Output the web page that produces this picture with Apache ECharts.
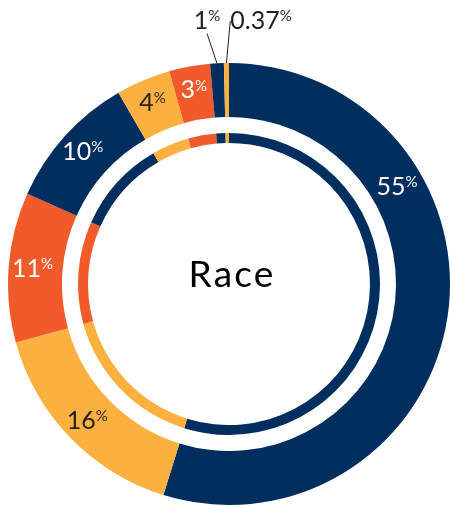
<!DOCTYPE html>
<html>
<head>
<meta charset="utf-8">
<style>html,body{margin:0;padding:0;background:#fff}#main{width:450px;height:506px}</style>
<script src="https://cdn.jsdelivr.net/npm/echarts@6/dist/echarts.min.js"></script>
</head>
<body>
<div id="main"></div>
<script>
// shares of each race group, clockwise from 12 o'clock
var groups = ['g1', 'g2', 'g3', 'g4', 'g5', 'g6', 'g7', 'g8'];
var values = [55, 16, 11, 10, 4, 3, 1, 0.37];
var labels = ['55', '16', '11', '10', '4', '3', '1', '0.37'];

var NAVY = '#002f5f', YELLOW = '#fbb040', RED = '#f15a2b', INK = '#231f20';
var colors = [NAVY, YELLOW, RED, NAVY, YELLOW, RED, NAVY, YELLOW];
var cx = 229, cy = 284;

var chart = echarts.init(document.getElementById('main'));

function pctRich(col) {
  return {
    n: {fontFamily: 'Lato', fontWeight: 400, fontSize: 25, color: col, lineHeight: 24},
    p: {fontFamily: 'Lato', fontWeight: 400, fontSize: 15, color: col, verticalAlign: 'top', lineHeight: 14}
  };
}

var outerData = values.map(function (v, i) {
  var outside = i >= 6;
  var txtCol = outside ? INK : (colors[i] == YELLOW ? INK : '#fff');
  return {
    name: groups[i],
    value: v,
    itemStyle: {color: colors[i]},
    label: {
      show: true,
      position: outside ? 'outside' : 'inside',
      formatter: '{n|' + labels[i] + '}{p|%}',
      rich: pctRich(txtCol)
    },
    labelLine: {
      show: outside,
      length: 20,
      length2: 0,
      lineStyle: {color: INK, width: 1}
    }
  };
});

var innerData = values.map(function (v, i) {
  return {name: groups[i], value: v, itemStyle: {color: colors[i]}};
});

chart.setOption({
  animation: false,
  graphic: [{
    type: 'text',
    x: cx + 2,
    y: 275,
    style: {
      text: '{s|R}{s|a}{s|c}{e|e}',
      rich: {
        s: {fontFamily: 'Lato', fontSize: 37, color: INK, padding: [0, 2, 0, 0]},
        e: {fontFamily: 'Lato', fontSize: 37, color: INK}
      },
      align: 'center',
      verticalAlign: 'middle'
    }
  }],
  series: [{
    type: 'pie',
    center: [cx, cy],
    radius: [167, 221],
    startAngle: 90,
    clockwise: true,
    avoidLabelOverlap: false,
    silent: true,
    data: outerData,
    labelLayout: function (p) {
      // 55% sits higher on its arc, the two tiny slices are labelled above the ring
      if (p.dataIndex === 0) {
        var a = 60 * Math.PI / 180;
        return {x: cx + 194 * Math.sin(a), y: cy - 194 * Math.cos(a), align: 'center', verticalAlign: 'middle'};
      }
      if (p.dataIndex === 6) return {x: 207, y: 21, align: 'center', verticalAlign: 'middle'};
      if (p.dataIndex === 7) return {x: 261, y: 21, align: 'center', verticalAlign: 'middle'};
    }
  }, {
    type: 'pie',
    center: [cx, cy],
    radius: [141, 151],
    startAngle: 90,
    clockwise: true,
    silent: true,
    label: {show: false},
    labelLine: {show: false},
    data: innerData
  }]
});
</script>
</body>
</html>
